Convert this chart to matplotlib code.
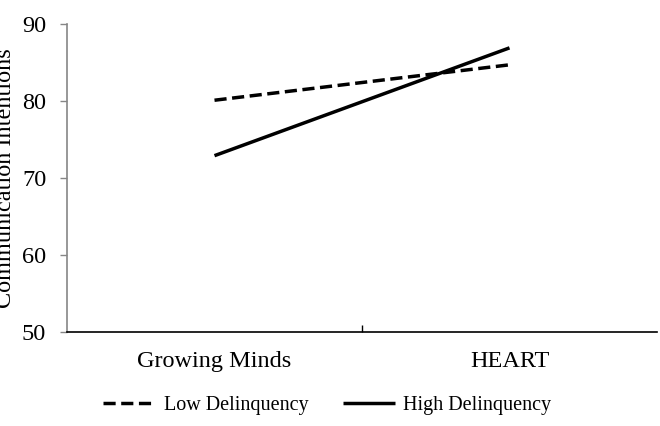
import matplotlib.pyplot as plt
import numpy as np

# --- Data ---
conditions = ["Growing Minds", "HEART"]
low_delinquency = [80.1, 84.7]
high_delinquency = [72.9, 86.9]
y_ticks = [50, 60, 70, 80, 90]

plt.rcParams['font.family'] = ['Liberation Serif', 'DejaVu Serif']

fig = plt.figure(figsize=(6.6, 4.26), dpi=100)
ax = fig.add_axes([67 / 660, 1 - 332 / 426, 590 / 660, 308 / 426])

x = np.arange(len(conditions))
ax.plot(x, low_delinquency, color='black', lw=2.5, linestyle=(0, (3.5, 1.6)),
        label='Low Delinquency', solid_capstyle='butt', dash_capstyle='butt')
ax.plot(x, high_delinquency, color='black', lw=2.5, linestyle='-',
        label='High Delinquency', solid_capstyle='butt')

ax.set_xlim(-0.5, 1.5)
ax.set_ylim(50, 90)
ax.set_yticks(y_ticks)
ax.tick_params(axis='y', labelsize=17.5, length=5, direction='out', color='#868686', width=1, pad=10)

# category labels without ticks, a single tick between the categories
ax.set_xticks(x)
ax.set_xticklabels(conditions, fontsize=17.5)
ax.tick_params(axis='x', length=0, pad=14)
ax.set_xticks([0.5], minor=True)
ax.tick_params(axis='x', which='minor', length=5, direction='in', color='black', width=1)

for side in ['top', 'right']:
    ax.spines[side].set_visible(False)
ax.spines['left'].set_color('#868686')
ax.spines['left'].set_linewidth(1.2)
ax.spines['bottom'].set_color('black')
ax.spines['bottom'].set_linewidth(1.2)

# label partly cut at the left edge, as in the source figure
ax.set_ylabel('Communication Intentions', fontsize=17.5)
ax.yaxis.set_label_coords(-0.086, 0.5)

fig.legend(loc='center', bbox_to_anchor=(0.496, 1 - 405 / 426), ncol=2, frameon=False,
           fontsize=14.5, handlelength=2.6, handletextpad=0.4, columnspacing=1.7)

fig.savefig('out.png', dpi=100)
